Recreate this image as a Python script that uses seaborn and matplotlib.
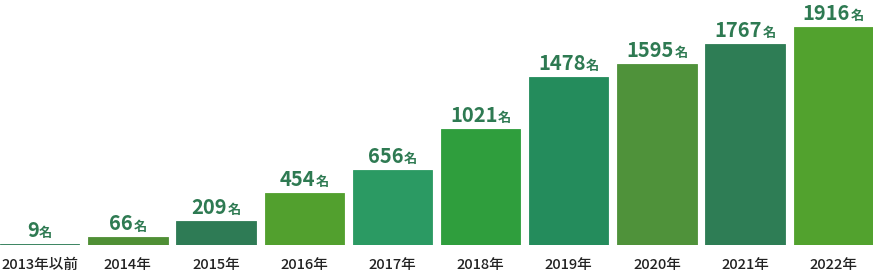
import matplotlib
matplotlib.use("Agg")
import matplotlib.pyplot as plt
import seaborn as sns
import pandas as pd
from matplotlib.transforms import offset_copy

categories = ["2013年以前", "2014年", "2015年", "2016年", "2017年", "2018年",
              "2019年", "2020年", "2021年", "2022年"]
values = [9, 66, 209, 454, 656, 1021, 1478, 1595, 1767, 1916]
colors = ["#2e7d57", "#4f8f35", "#2e7b55", "#52a02e", "#2b9a63", "#2f9e3d",
          "#248c5c", "#4f923a", "#2e7d55", "#52a22e"]
unit = "名"

sns.set_style("white")
plt.rcParams['font.family'] = ['Noto Sans CJK JP', 'DejaVu Sans']

df = pd.DataFrame({"cat": categories, "val": values})
fig = plt.figure(figsize=(8.73, 2.73), dpi=100)
ax = fig.add_axes([0, 28 / 273, 1, 245 / 273])
sns.barplot(data=df, x="cat", y="val", hue="cat", palette=colors, legend=False,
            width=0.9, saturation=1, ax=ax)
for p, c in zip(ax.patches, colors):
    p.set_edgecolor(c)
    p.set_linewidth(0.6)
ax.set_xlim(-0.45, 9.45)
ax.set_ylim(0, 1916 * 245 / 218)
for s in ax.spines.values():
    s.set_visible(False)
ax.set_yticks([])
ax.set_xlabel("")
ax.set_ylabel("")
ax.tick_params(axis="x", length=0, pad=9)
for t in ax.get_xticklabels():
    t.set_fontsize(10.5)
    t.set_color("#222222")
    t.set_fontweight("medium")

txtc = "#2e7a52"
fig.canvas.draw()
r = fig.canvas.get_renderer()
for i, v in enumerate(values):
    tn = ax.text(i, v, str(v), fontsize=14.5, fontweight="bold", color=txtc,
                 ha="center", va="baseline",
                 transform=offset_copy(ax.transData, fig=fig, x=0, y=7, units="dots"))
    tu = ax.text(i, v, unit, fontsize=9.5, fontweight="bold", color=txtc,
                 ha="center", va="baseline",
                 transform=offset_copy(ax.transData, fig=fig, x=0, y=7, units="dots"))
    wn = tn.get_window_extent(r).width
    wu = tu.get_window_extent(r).width
    total = wn + wu + 0.5
    tn.set_transform(offset_copy(ax.transData, fig=fig, x=-total / 2 + wn / 2, y=7, units="dots"))
    tu.set_transform(offset_copy(ax.transData, fig=fig, x=total / 2 - wu / 2, y=7, units="dots"))

fig.savefig("out.png", dpi=100)
